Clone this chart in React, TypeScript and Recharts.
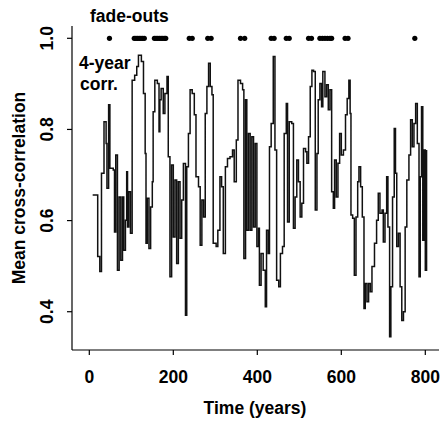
import React from 'react'
import { ComposedChart, Line, Scatter, XAxis, YAxis } from 'recharts'

// 4-year mean cross-correlation (step line)
const years = [
  8, 17, 20, 25, 29, 35, 40, 42, 46, 49, 57, 60, 63, 67, 71, 75, 79, 82, 86, 89,
  91, 94, 98, 102, 108, 113, 117, 124, 129, 133, 135, 138, 142, 146, 150, 152, 156, 162, 166, 168,
  171, 176, 180, 185, 188, 192, 196, 200, 204, 208, 212, 216, 220, 224, 229, 232, 236, 240, 245, 250,
  254, 260, 264, 268, 272, 276, 280, 284, 288, 292, 295, 302, 306, 311, 315, 319, 324, 329, 335, 341,
  345, 350, 354, 360, 365, 368, 372, 375, 379, 383, 387, 391, 395, 399, 403, 405, 409, 414, 419, 422,
  426, 429, 433, 438, 442, 446, 451, 455, 460, 464, 469, 472, 476, 482, 486, 490, 494, 498, 502, 506,
  510, 515, 518, 522, 526, 530, 534, 538, 542, 545, 549, 553, 556, 561, 565, 569, 573, 577, 581, 584,
  588, 592, 596, 600, 605, 610, 614, 618, 621, 623, 627, 631, 635, 639, 642, 646, 650, 654, 657, 661,
  665, 669, 673, 679, 684, 688, 692, 697, 700, 704, 708, 711, 715, 718, 722, 726, 729, 732, 736, 740,
  744, 748, 752, 756, 761, 765, 769, 773, 777, 781, 785, 788, 791, 794, 797, 800, 803,
]
const corr = [
  0.656, 0.656, 0.521, 0.488, 0.704, 0.817, 0.769, 0.671, 0.854, 0.715, 0.711, 0.575, 0.744, 0.491, 0.652, 0.513, 0.652, 0.535, 0.601, 0.707,
  0.586, 0.663, 0.572, 0.908, 0.919, 0.938, 0.963, 0.949, 0.879, 0.747, 0.55, 0.649, 0.539, 0.63, 0.685, 0.839, 0.908, 0.901, 0.795, 0.865,
  0.89, 0.835, 0.879, 0.916, 0.74, 0.477, 0.722, 0.564, 0.689, 0.506, 0.685, 0.561, 0.645, 0.725, 0.392, 0.718, 0.791, 0.887, 0.879, 0.832,
  0.696, 0.674, 0.546, 0.645, 0.608, 0.835, 0.894, 0.945, 0.894, 0.876, 0.55, 0.543, 0.579, 0.696, 0.674, 0.528, 0.718, 0.736, 0.74, 0.755,
  0.685, 0.777, 0.908, 0.901, 0.887, 0.517, 0.865, 0.579, 0.791, 0.579, 0.784, 0.586, 0.769, 0.543, 0.583, 0.458, 0.528, 0.491, 0.411, 0.579,
  0.528, 0.762, 0.813, 0.96, 0.755, 0.469, 0.455, 0.528, 0.543, 0.791, 0.857, 0.597, 0.817, 0.813, 0.583, 0.652, 0.733, 0.685, 0.608, 0.638,
  0.758, 0.751, 0.726, 0.784, 0.894, 0.93, 0.927, 0.623, 0.747, 0.865, 0.901, 0.85, 0.927, 0.872, 0.898, 0.843, 0.887, 0.663, 0.627, 0.733,
  0.652, 0.726, 0.791, 0.744, 0.755, 0.832, 0.868, 0.908, 0.835, 0.612, 0.605, 0.48, 0.608, 0.685, 0.718, 0.674, 0.608, 0.407, 0.462, 0.422,
  0.462, 0.444, 0.499, 0.55, 0.601, 0.66, 0.616, 0.623, 0.553, 0.616, 0.696, 0.586, 0.345, 0.455, 0.652, 0.802, 0.704, 0.543, 0.572, 0.455,
  0.381, 0.4, 0.586, 0.689, 0.744, 0.821, 0.762, 0.813, 0.857, 0.769, 0.477, 0.696, 0.85, 0.557, 0.755, 0.491, 0.755,
]
// years with fade-outs, plotted at 1.0
const fadeYears = [
  48, 107, 111, 115, 119, 123, 127, 131, 155, 159, 163, 167, 171, 175, 179, 182,
  238, 245, 282, 290, 360, 370, 433, 440, 469, 476, 522, 529, 549, 555, 561, 567, 573, 577, 609, 616, 775,
]
const xTicks = [0, 200, 400, 600, 800]
const yTicks = [0.4, 0.6, 0.8, 1.0]

const lineData = years.map((year, i) => ({ year, corr: corr[i] }))
const fadeData = fadeYears.map((year) => ({ year, corr: 1.0 }))

const FONT = '"Liberation Sans", Arial, Helvetica, sans-serif'
const txt = { fontFamily: FONT, fontWeight: 'bold' as const, fontSize: 17.5, fill: '#000' }

const XTick = ({ x, payload }: any) => (
  <text x={x} y={383} textAnchor="middle" {...txt}>
    {payload.value}
  </text>
)

const YTick = ({ y, payload }: any) => (
  <text transform={`translate(53,${y}) rotate(-90)`} textAnchor="middle" {...txt}>
    {Number(payload.value).toFixed(1)}
  </text>
)

const Dot = ({ cx, cy }: any) => <circle cx={cx} cy={cy} r={2.6} fill="#000" />

export default function App() {
  return (
    <div style={{ position: 'absolute', left: 0, top: 0, background: '#fff' }}>
      <ComposedChart width={441} height={421} margin={{ top: 26, right: 2, bottom: 0, left: 0 }}>
        <XAxis
          type="number"
          dataKey="year"
          domain={[-41.2, 832.6]}
          ticks={xTicks}
          allowDataOverflow
          height={71}
          tickSize={5}
          stroke="#000"
          strokeWidth={1.2}
          tick={<XTick />}
        />
        <YAxis
          type="number"
          domain={[0.316, 1.027]}
          ticks={yTicks}
          allowDataOverflow
          width={72}
          tickSize={5}
          stroke="#000"
          strokeWidth={1.2}
          tick={<YTick />}
        />
        <Line
          data={lineData}
          dataKey="corr"
          type="stepAfter"
          stroke="#111"
          strokeWidth={1.5}
          dot={false}
          isAnimationActive={false}
        />
        <Scatter data={fadeData} dataKey="corr" shape={<Dot />} isAnimationActive={false} />
        <text x={90} y={21.5} {...txt}>fade-outs</text>
        <text x={79} y={69} {...txt}>4-year</text>
        <text x={80} y={90} {...txt}>corr.</text>
        <text x={255} y={413.5} textAnchor="middle" {...txt}>Time (years)</text>
        <text transform="translate(25,188) rotate(-90)" textAnchor="middle" {...txt}>
          Mean cross-correlation
        </text>
      </ComposedChart>
    </div>
  )
}
